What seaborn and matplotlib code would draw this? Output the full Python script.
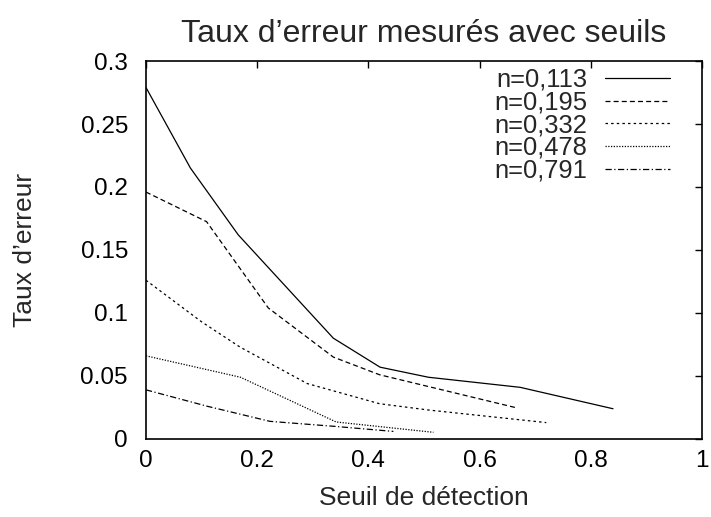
import matplotlib
matplotlib.use("Agg")
import matplotlib.pyplot as plt
import matplotlib.ticker as mticker
import seaborn as sns
import pandas as pd

labels = ["n=0,113", "n=0,195", "n=0,332", "n=0,478", "n=0,791"]
x_113 = [0.0, 0.08, 0.166, 0.337, 0.421, 0.508, 0.673, 0.84]
y_113 = [0.279, 0.215, 0.162, 0.080, 0.057, 0.049, 0.041, 0.024]
x_195 = [0.0, 0.109, 0.22, 0.337, 0.42, 0.664]
y_195 = [0.196, 0.1725, 0.104, 0.065, 0.051, 0.025]
x_332 = [0.0, 0.1, 0.169, 0.29, 0.42, 0.508, 0.72]
y_332 = [0.126, 0.093, 0.073, 0.044, 0.028, 0.023, 0.013]
x_478 = [0.0, 0.17, 0.342, 0.517]
y_478 = [0.066, 0.049, 0.0135, 0.0053]
x_791 = [0.0, 0.11, 0.223, 0.34, 0.445]
y_791 = [0.039, 0.026, 0.014, 0.010, 0.006]

xs = [x_113, x_195, x_332, x_478, x_791]
ys = [y_113, y_195, y_332, y_478, y_791]

rows = []
for lab, xv, yv in zip(labels, xs, ys):
    for i, (a, b) in enumerate(zip(xv, yv)):
        rows.append({"seuil": a, "taux": b, "serie": lab, "ordre": i})
df = pd.DataFrame(rows)

sns.set_theme(style="white")
plt.rcParams["font.family"] = ["Liberation Sans", "DejaVu Sans"]

fig = plt.figure(figsize=(7.11, 5.17), dpi=100)
ax = fig.add_axes([0.2053, 0.1509, 0.9873 - 0.2053, 0.882 - 0.1509])

dashes = {
    "n=0,113": "",
    "n=0,195": (4, 2.5),
    "n=0,332": (2, 2.5),
    "n=0,478": (1, 1.2),
    "n=0,791": (5, 2, 1, 2),
}
sns.lineplot(data=df, x="seuil", y="taux", style="serie", dashes=dashes,
             color="black", linewidth=0.9, sort=False, estimator=None,
             units="serie", ax=ax, legend=True)

ax.set_xlim(0, 1)
ax.set_ylim(0, 0.3)
ax.set_xticks([0, 0.2, 0.4, 0.6, 0.8, 1.0])
ax.set_yticks([0, 0.05, 0.1, 0.15, 0.2, 0.25, 0.3])
fmt = mticker.FuncFormatter(lambda v, p: "%g" % round(v, 4))
ax.xaxis.set_major_formatter(fmt)
ax.yaxis.set_major_formatter(fmt)
ax.tick_params(direction="in", length=5, width=1, top=True, right=True,
               labelsize=17.5, colors="black")
ax.tick_params(axis="y", pad=13)
ax.tick_params(axis="x", pad=8)
for s in ax.spines.values():
    s.set_color("black")
    s.set_linewidth(1.2)

ax.set_xlabel("Seuil de détection", fontsize=19, labelpad=10)
ax.set_ylabel("Taux d’erreur", fontsize=19, labelpad=31)
ax.set_title("Taux d’erreur mesurés avec seuils", fontsize=23, pad=14)

handles, labs = ax.get_legend_handles_labels()
ax.legend(handles, labs, loc="upper right", frameon=False, markerfirst=False,
          fontsize=18.4, handlelength=2.55, labelspacing=-0.05, borderaxespad=0,
          borderpad=0, bbox_to_anchor=(0.942, 0.982), handletextpad=0.66)

fig.savefig("out.png", dpi=100)
